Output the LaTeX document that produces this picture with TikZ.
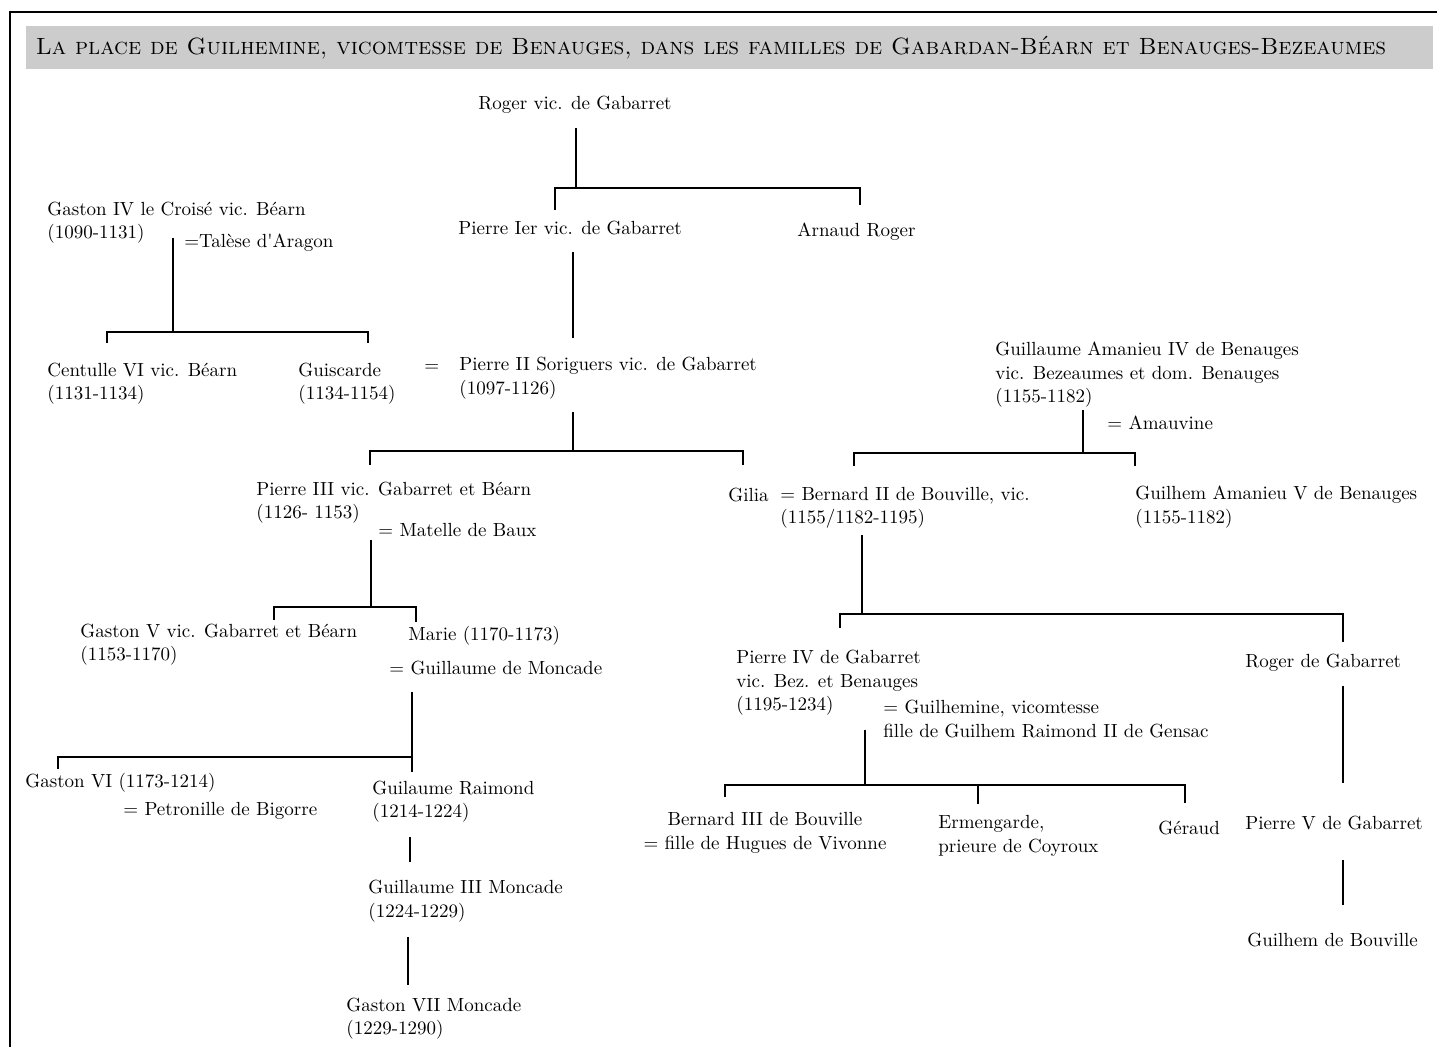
\documentclass[tikz,border=0pt]{standalone}
\usepackage{fontspec}
\begin{document}
\begin{tikzpicture}[x=0.5pt,y=-0.5pt,
  person/.style={anchor=west,align=left,inner sep=0pt,font=\fontsize{9.5}{11.75}\selectfont},
  link/.style={line width=1pt},
  titletext/.style={inner sep=0pt,font=\fontsize{11.75}{14}\selectfont}]
\useasboundingbox (0,0) rectangle (1437,1047);
% frame and title band
\coordinate (frTL) at (10,12);
\coordinate (frTR) at (1437,12);
\coordinate (frBL) at (10,1047);
\draw[line width=1pt] (frTR) -- (frTL) -- (frBL);
\fill[gray!40] (26,26) rectangle (1433,69);
\node[titletext] (title) at (711,48) {\textsc{La place de Guilhemine, vicomtesse de Benauges, dans les familles de Gabardan-Béarn et Benauges-Bezeaumes}};
% persons
\node[person] (roger) at (478,105) {Roger vic. de Gabarret};
\node[person] (pierre1) at (458,228) {Pierre Ier vic. de Gabarret};
\node[person] (arnaud) at (797,232) {Arnaud Roger};
\node[person] (gaston4) at (47,222.5) {Gaston IV le Croisé vic. Béarn\\(1090-1131)};
\node[person] (talese) at (184,243) {=Talèse d\textquotesingle Aragon};
\node[person] (centulle) at (47,383.5) {Centulle VI vic. Béarn\\(1131-1134)};
\node[person] (guiscarde) at (298,383.5) {Guiscarde\\(1134-1154)};
\node[person] (eqa) at (424,368) {=};
\node[person] (pierre2) at (459,378) {Pierre II Soriguers vic. de Gabarret\\(1097-1126)};
\node[person] (pierre3) at (256,502.5) {Pierre III vic. Gabarret et Béarn\\(1126- 1153)};
\node[person] (matelle) at (378,530) {= Matelle de Baux};
\node[person] (gilia) at (728,495) {Gilia};
\node[person] (bernard2) at (780,508) {= Bernard II de Bouville, vic.\\(1155/1182-1195)};
\node[person] (guillaume4) at (995,375) {Guillaume Amanieu IV de Benauges\\vic. Bezeaumes et dom. Benauges\\(1155-1182)};
\node[person] (amauvine) at (1107,423) {= Amauvine};
\node[person] (guilhem5) at (1135,507) {Guilhem Amanieu V de Benauges\\(1155-1182)};
\node[person] (gaston5) at (80,644.5) {Gaston V vic. Gabarret et Béarn\\(1153-1170)};
\node[person] (marie) at (408,636) {Marie (1170-1173)};
\node[person] (moncade) at (389,668) {= Guillaume de Moncade};
\node[person] (gaston6) at (25,783) {Gaston VI (1173-1214)};
\node[person] (petronille) at (123,811) {= Petronille de Bigorre};
\node[person] (guilaumer) at (372,801.5) {Guilaume Raimond\\(1214-1224)};
\node[person] (guillaume3) at (368,901) {Guillaume III Moncade\\(1224-1229)};
\node[person] (gaston7) at (346,1018.5) {Gaston VII Moncade\\(1229-1290)};
\node[person] (pierre4) at (736,683) {Pierre IV de Gabarret\\vic. Bez. et Benauges\\(1195-1234)};
\node[person] (guilhemine) at (883,719) {= Guilhemine, vicomtesse\\fille de Guilhem Raimond II de Gensac};
\node[person] (rogerg) at (1245,663) {Roger de Gabarret};
\node[person,anchor=center,align=center] (bernard3) at (765,833) {Bernard III de Bouville\\= fille de Hugues de Vivonne};
\node[person] (ermengarde) at (938,836) {Ermengarde,\\prieure de Coyroux};
\node[person] (geraud) at (1158,828) {Géraud};
\node[person] (pierre5) at (1245,823) {Pierre V de Gabarret};
\node[person] (guilhemb) at (1247,940) {Guilhem de Bouville};
% junction coordinates
\coordinate (a1) at (576,128); \coordinate (a2) at (576,188);
\coordinate (a3) at (555,210); \coordinate (a4) at (555,188);
\coordinate (a5) at (860,188); \coordinate (a6) at (860,205);
\coordinate (b1) at (173,238); \coordinate (b2) at (173,332);
\coordinate (b3) at (107,343); \coordinate (b4) at (107,332);
\coordinate (b5) at (368,332); \coordinate (b6) at (368,343);
\coordinate (c1) at (573,252); \coordinate (c2) at (573,338);
\coordinate (d1) at (573,412); \coordinate (d2) at (573,451);
\coordinate (d3) at (370,465); \coordinate (d4) at (370,451);
\coordinate (d5) at (743,451); \coordinate (d6) at (743,465);
\coordinate (e1) at (371,540); \coordinate (e2) at (371,607);
\coordinate (e3) at (274,620); \coordinate (e4) at (274,607);
\coordinate (e5) at (416,607); \coordinate (e6) at (416,622);
\coordinate (f1) at (412,692); \coordinate (f2) at (412,772);
\coordinate (f3) at (58,769); \coordinate (f4) at (58,757);
\coordinate (f5) at (412,757);
\coordinate (g1) at (410,837); \coordinate (g2) at (410,862);
\coordinate (h1) at (408,937); \coordinate (h2) at (408,985);
\coordinate (i1) at (1083,410); \coordinate (i2) at (1083,453);
\coordinate (i3) at (854,466); \coordinate (i4) at (854,453);
\coordinate (i5) at (1135,453); \coordinate (i6) at (1135,466);
\coordinate (j1) at (862,535); \coordinate (j2) at (862,614);
\coordinate (j3) at (840,628); \coordinate (j4) at (840,614);
\coordinate (j5) at (1343,614); \coordinate (j6) at (1343,642);
\coordinate (k1) at (865,730); \coordinate (k2) at (865,785);
\coordinate (k3) at (725,797); \coordinate (k4) at (725,785);
\coordinate (k5) at (1185,785); \coordinate (k6) at (1185,803);
\coordinate (k7) at (978,785); \coordinate (k8) at (978,804);
\coordinate (l1) at (1343,686); \coordinate (l2) at (1343,783);
\coordinate (m1) at (1343,860); \coordinate (m2) at (1343,905);
% connectors
\draw[link] (a1) -- (a2);
\draw[link] (a3) -- (a4) -- (a5) -- (a6);
\draw[link] (b1) -- (b2);
\draw[link] (b3) -- (b4) -- (b5) -- (b6);
\draw[link] (c1) -- (c2);
\draw[link] (d1) -- (d2);
\draw[link] (d3) -- (d4) -- (d5) -- (d6);
\draw[link] (e1) -- (e2);
\draw[link] (e3) -- (e4) -- (e5) -- (e6);
\draw[link] (f1) -- (f2);
\draw[link] (f3) -- (f4) -- (f5);
\draw[link] (g1) -- (g2);
\draw[link] (h1) -- (h2);
\draw[link] (i1) -- (i2);
\draw[link] (i3) -- (i4) -- (i5) -- (i6);
\draw[link] (j1) -- (j2);
\draw[link] (j3) -- (j4) -- (j5) -- (j6);
\draw[link] (k1) -- (k2);
\draw[link] (k3) -- (k4) -- (k5) -- (k6);
\draw[link] (k7) -- (k8);
\draw[link] (l1) -- (l2);
\draw[link] (m1) -- (m2);
\end{tikzpicture}
\end{document}
